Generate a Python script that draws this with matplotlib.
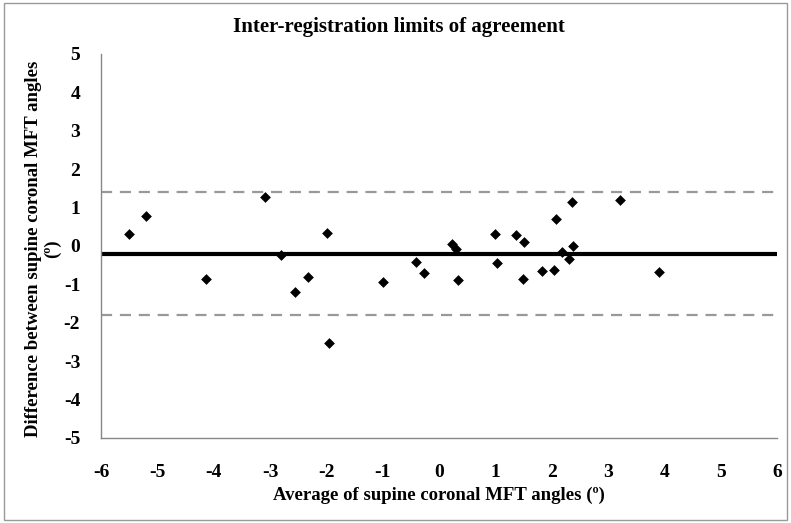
import matplotlib
matplotlib.use("Agg")
import matplotlib.pyplot as plt
from matplotlib.patches import Rectangle

plt.rcParams['font.family'] = ['Liberation Serif', 'DejaVu Serif']
plt.rcParams['font.weight'] = 'bold'
plt.rcParams['axes.unicode_minus'] = False

avg = [-5.50, -5.20, -4.14, -3.08, -2.81, -2.56, -2.32, -1.99, -1.96, -1.00,
       -0.41, -0.27, 0.23, 0.30, 0.34, 1.00, 1.03, 1.36, 1.50, 1.49,
       1.83, 2.04, 2.08, 2.18, 2.30, 2.36, 2.37, 3.22, 3.90]
diff = [0.30, 0.79, -0.87, 1.28, -0.24, -1.21, -0.80, 0.34, -2.52, -0.93,
        -0.42, -0.71, 0.04, -0.09, -0.89, 0.32, -0.43, 0.29, 0.11, -0.87,
        -0.64, -0.63, 0.70, -0.15, -0.33, 1.15, 0.01, 1.20, -0.68]
mean_diff = -0.21
upper_loa = 1.40
lower_loa = -1.80
xticks = list(range(-6, 7))
yticks = list(range(-5, 6))

fig = plt.figure(figsize=(7.91, 5.23), dpi=100)
ax = fig.add_axes([101/791, 1 - 438/523, 676/791, 384/523])

ax.axhline(upper_loa, color='#999999', lw=1.6, ls=(0, (5, 3.5)))
ax.axhline(lower_loa, color='#999999', lw=1.6, ls=(0, (5, 3.5)))
ax.axhline(mean_diff, color='black', lw=3)
ax.scatter(avg, diff, marker='D', s=30, color='black', zorder=3, linewidths=0)

ax.set_xlim(-6, 6)
ax.set_ylim(-5, 5)
ax.set_xticks(xticks)
ax.set_yticks(yticks)
ax.set_xticklabels([str(t) for t in xticks], fontweight='bold', fontsize=14)
ax.set_yticklabels([str(t) for t in yticks], fontweight='bold', fontsize=14)
ax.tick_params(length=0)
ax.tick_params(axis='x', pad=19)
ax.tick_params(axis='y', pad=15)
for s in ['top', 'right']:
    ax.spines[s].set_visible(False)
for s in ['left', 'bottom']:
    ax.spines[s].set_color('#888888')
    ax.spines[s].set_linewidth(1)

fig.text(399/791, 1 - 27/523, 'Inter-registration limits of agreement',
         ha='center', va='center', fontsize=15, fontweight='bold')
fig.text(439/791, 1 - 495/523, 'Average of supine coronal MFT angles (º)',
         ha='center', va='center', fontsize=13.5, fontweight='bold')
fig.text(43/791, 1 - 249/523, 'Difference between supine coronal MFT angles\n(º)',
         ha='center', va='center', rotation=90, fontsize=13.5, fontweight='bold',
         linespacing=1.15)

fig.patches.append(Rectangle((4/791, 3/523), 783/791, 517/523, transform=fig.transFigure,
                             fill=False, edgecolor='#999999', lw=1))

fig.savefig('out.png', dpi=100)
